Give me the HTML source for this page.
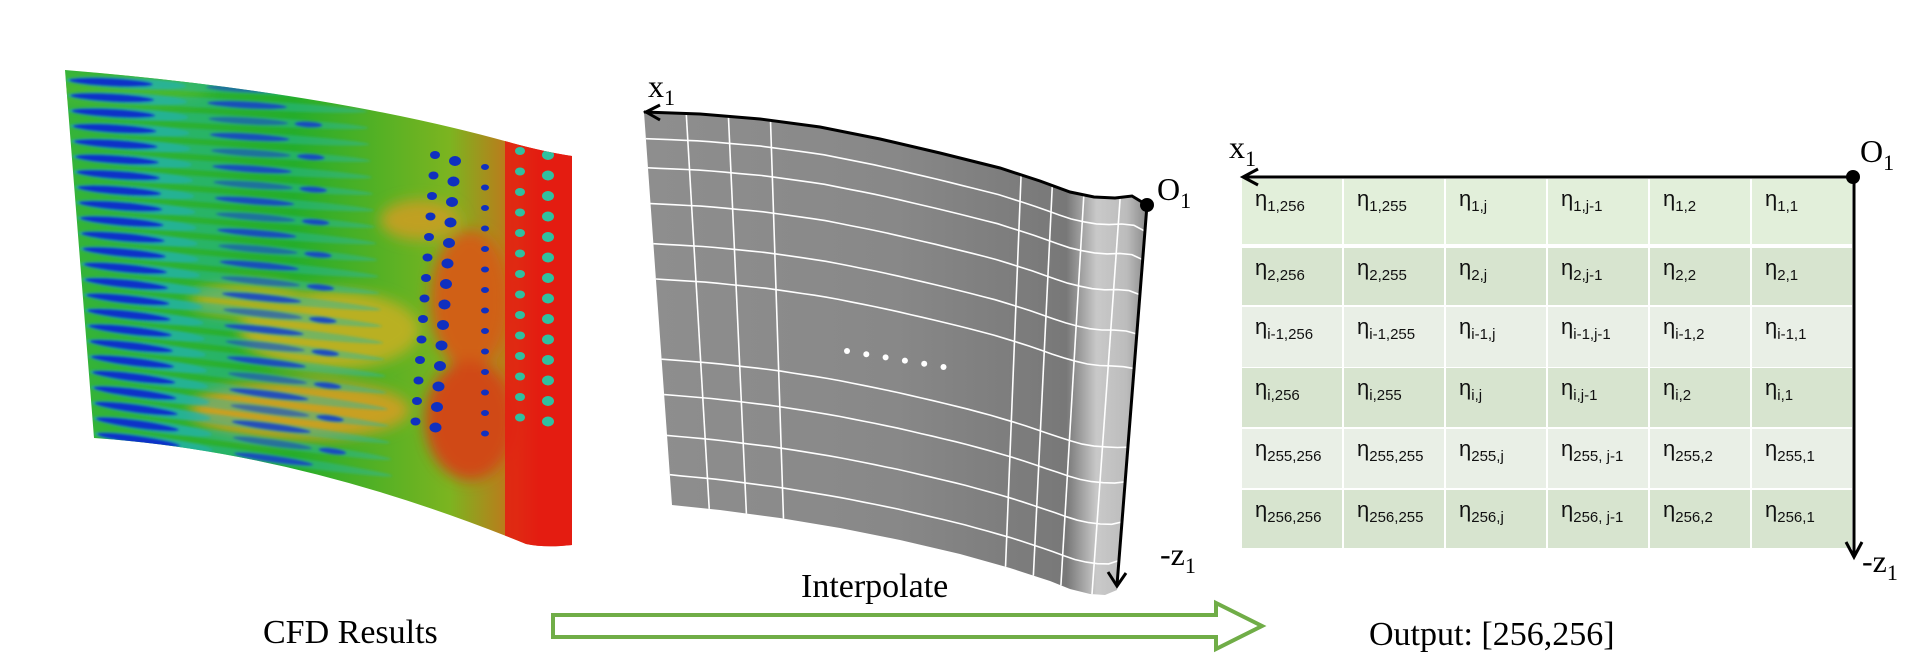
<!DOCTYPE html>
<html><head><meta charset="utf-8"><style>
html,body{margin:0;padding:0;background:#fff;}
svg{display:block;}
.serif{font-family:"Liberation Serif",serif;fill:#000;}
.cell{font-family:"Liberation Sans",sans-serif;fill:#111;font-size:22px;}
</style></head><body>
<svg id="fig" width="1917" height="672" viewBox="0 0 1917 672" xmlns="http://www.w3.org/2000/svg">
<defs>
<clipPath id="cfdClip"><path d="M65,70 Q330,92 512,143 Q545,152 572,156 L572,545 Q545,548 526,544 Q300,452 94,438 Z"/></clipPath>
<filter id="blur1"><feGaussianBlur stdDeviation="1.2"/></filter>
<filter id="blur6"><feGaussianBlur stdDeviation="7"/></filter>
<linearGradient id="cfdBase" x1="0" y1="0" x2="1" y2="0">
<stop offset="0" stop-color="#36b43a"/><stop offset="0.45" stop-color="#25ad2a"/><stop offset="0.75" stop-color="#7cb420"/><stop offset="0.88" stop-color="#c8701a"/><stop offset="0.92" stop-color="#e02010"/><stop offset="1" stop-color="#e01a10"/>
</linearGradient>
<linearGradient id="surfGrad" x1="644" y1="0" x2="1147" y2="0" gradientUnits="userSpaceOnUse">
<stop offset="0" stop-color="#8e8e8e"/><stop offset="0.5" stop-color="#888"/><stop offset="0.84" stop-color="#787878"/><stop offset="0.9" stop-color="#c9c9c9"/><stop offset="0.96" stop-color="#bcbcbc"/><stop offset="1" stop-color="#8a8a8a"/>
</linearGradient>
</defs>

<g id="cfd" clip-path="url(#cfdClip)">
<rect x="60" y="60" width="520" height="500" fill="url(#cfdBase)"/>
<g id="cfdBlobs" filter="url(#blur6)"></g>
<g id="cfdStreaks" filter="url(#blur1)"></g>
<rect x="505" y="60" width="70" height="500" fill="#e41c12" opacity="0.85"/>
<g id="cfdDots"></g>
</g>

<g id="surface">
<path id="surfPoly" fill="url(#surfGrad)"/>
<g id="meshLines" stroke="#fff" stroke-width="1.6" fill="none"></g>
<g id="meshDots" fill="#fff"></g>
<path id="surfTop" fill="none" stroke="#000" stroke-width="3"/>
<line x1="1147" y1="205" x2="1117" y2="585" stroke="#000" stroke-width="3"/>
<path d="M1108,572 L1117,586 L1126,573" fill="none" stroke="#000" stroke-width="3"/>
<path d="M660,105 L646,112 L660,120" fill="none" stroke="#000" stroke-width="3"/>
<circle cx="1147" cy="205" r="7" fill="#000"/>
<text class="serif" x="648" y="97" font-size="32">x<tspan font-size="22" dy="8">1</tspan></text>
<text class="serif" x="1157" y="200" font-size="32">O<tspan font-size="22" dy="8">1</tspan></text>
<text class="serif" x="1160" y="565" font-size="32">-z<tspan font-size="22" dy="8">1</tspan></text>
</g>

<g id="table"></g>
<g>
<line x1="1854" y1="177" x2="1244" y2="177" stroke="#000" stroke-width="3"/>
<path d="M1258,169 L1243,177 L1258,185" fill="none" stroke="#000" stroke-width="3"/>
<line x1="1854" y1="177" x2="1854" y2="556" stroke="#000" stroke-width="3"/>
<path d="M1846,542 L1854,557 L1862,542" fill="none" stroke="#000" stroke-width="3"/>
<circle cx="1853" cy="177" r="7" fill="#000"/>
<text class="serif" x="1229" y="158" font-size="32">x<tspan font-size="22" dy="8">1</tspan></text>
<text class="serif" x="1860" y="162" font-size="32">O<tspan font-size="22" dy="8">1</tspan></text>
<text class="serif" x="1862" y="572" font-size="32">-z<tspan font-size="22" dy="8">1</tspan></text>
</g>

<g>
<path d="M553,615 L1216,615 L1216,603 L1262,626 L1216,649 L1216,637 L553,637 Z" fill="#fff" stroke="#70ad47" stroke-width="4"/>
</g>
<text class="serif" x="263" y="643" font-size="34">CFD Results</text>
<text class="serif" x="801" y="597" font-size="34">Interpolate</text>
<text class="serif" x="1369" y="645" font-size="34">Output: [256,256]</text>
</svg>
<script>
const NS="http://www.w3.org/2000/svg";
const rowLabels=["1","2","i-1","i","255","256"];
const colLabels=["256","255","j","j-1","2","1"];
const rowTops=[179,248,307,368,429,490];
const rowBots=[244,305,367,427,488,548];
const rowFill=["#e2efda","#d7e4cf","#e9efe6","#d7e4cf","#e9efe6","#d7e4cf"];
const colX0=1241, colW=102;
const table=document.getElementById('table');
rowLabels.forEach((r,i)=>{
  colLabels.forEach((c,j)=>{
    const x=colX0+j*colW;
    const rect=document.createElementNS(NS,'rect');
    
    
    rect.setAttribute('x',x+1);rect.setAttribute('y',rowTops[i]);
    rect.setAttribute('width',colW-2);rect.setAttribute('height',rowBots[i]-rowTops[i]);
    rect.setAttribute('fill',rowFill[i]);
    table.appendChild(rect);
    const t=document.createElementNS(NS,'text');
    
    
    t.setAttribute('class','cell');
    t.setAttribute('x',x+14);t.setAttribute('y',rowTops[i]+27);
    let sub=r+","+c;
    if((r==="255"||r==="256")&&c==="j-1") sub=r+", j-1";
    t.innerHTML='η<tspan font-size="15" dy="5">'+sub+'</tspan>';
    table.appendChild(t);
  });
});

const topPts=[[644,112],[700,114],[760,119],[820,127],[880,139],[940,153],[1000,168],[1040,181],[1070,192],[1094,197],[1115,198],[1132,196],[1147,205]];
const botPts=[[672,505],[720,510],[780,518],[840,528],[900,540],[960,554],[1010,568],[1050,581],[1070,589],[1090,594],[1105,595],[1117,590]];
function along(pts,u){
  let L=[0];for(let k=1;k<pts.length;k++){L.push(L[k-1]+Math.hypot(pts[k][0]-pts[k-1][0],pts[k][1]-pts[k-1][1]));}
  const tgt=u*L[L.length-1];
  for(let k=1;k<pts.length;k++){ if(tgt<=L[k]){const f=(tgt-L[k-1])/(L[k]-L[k-1]||1);return [pts[k-1][0]+f*(pts[k][0]-pts[k-1][0]),pts[k-1][1]+f*(pts[k][1]-pts[k-1][1])];}}
  return pts[pts.length-1];
}
function P(u,v){const a=along(topPts,u),b=along(botPts,u);return [a[0]*(1-v)+b[0]*v,a[1]*(1-v)+b[1]*v];}
let d="M"+topPts.map(p=>p.join(",")).join(" L")+" L"+botPts.slice().reverse().map(p=>p.join(",")).join(" L")+" Z";
document.getElementById('surfPoly').setAttribute('d',d);
document.getElementById('surfTop').setAttribute('d',"M"+topPts.map(p=>p.join(",")).join(" L"));
const vLines=[0.068,0.142,0.233,0.335,0.425,0.629,0.719,0.823,0.923];
const uLines=[0.082,0.164,0.246,0.744,0.808,0.872,0.943];
const ml=document.getElementById('meshLines');
vLines.forEach(v=>{let s=[];for(let k=0;k<=40;k++){s.push(P(k/40,v).map(n=>n.toFixed(1)).join(","));}
  const p=document.createElementNS(NS,'path');
  
  
  p.setAttribute('d',"M"+s.join(" L"));ml.appendChild(p);});
uLines.forEach(u=>{const a=P(u,0),b=P(u,1);
  const p=document.createElementNS(NS,'path');
  
  
  p.setAttribute('d',"M"+a.join(",")+" L"+b.join(","));ml.appendChild(p);});
const md=document.getElementById('meshDots');
for(let k=0;k<6;k++){const c=document.createElementNS(NS,'circle');
  
  
  c.setAttribute('cx',847+k*19.3);c.setAttribute('cy',351+k*3.2);c.setAttribute('r',3);md.appendChild(c);}

const blobs=document.getElementById('cfdBlobs');
[[330,330,90,40,"#b9b021"],[300,410,110,30,"#c8a020"],[250,300,60,18,"#a8b020"],[470,300,40,70,"#d06018"],[470,420,45,60,"#d04a15"],[130,90,80,15,"#4ab832"],[420,220,40,20,"#c0a020"]].forEach(b=>{
  const e=document.createElementNS(NS,'ellipse');
  
  
  e.setAttribute('cx',b[0]);e.setAttribute('cy',b[1]);e.setAttribute('rx',b[2]);e.setAttribute('ry',b[3]);e.setAttribute('fill',b[4]);blobs.appendChild(e);});
const st=document.getElementById('cfdStreaks');
const dots=document.getElementById('cfdDots');
for(let i=0;i<24;i++){
  const y=80+i*15.2, x0=66+i*1.2;
  const sl=0.05+i*0.004;
  [[x0+150,150,5,"#28b8a8",0.45],[x0+60,60,6,"#20b0b0",0.6],[x0+45,42,4,"#1030c8",1],[x0+180,40,3.5,"#1a40c8",i%2?0.85:0.55],[x0+240,14,3,"#1a40c8",i%2?0:0.9]].forEach(s=>{
    if(s[4]===0)return;
    const e=document.createElementNS(NS,'ellipse');
    
    
    const cy=y+(s[0]-66)*sl;
    e.setAttribute('cx',s[0]);e.setAttribute('cy',cy);e.setAttribute('rx',s[1]);e.setAttribute('ry',s[2]);
    e.setAttribute('fill',s[3]);e.setAttribute('opacity',s[4]);
    e.setAttribute('transform','rotate('+(sl*57)+' '+s[0]+' '+cy+')');
    st.appendChild(e);
  });
}
for(let i=0;i<14;i++){
  const y=155+i*20.5;
  [[435-i*1.5,0,4],[455-i*1.5,6,5],[485,12,3],[520,-4,4],[548,0,5]].forEach(s=>{
    const c=document.createElementNS(NS,'ellipse');
    
    
    c.setAttribute('cx',s[0]);c.setAttribute('cy',y+s[1]);c.setAttribute('rx',s[2]+1);c.setAttribute('ry',s[2]);
    c.setAttribute('fill',s[0]>510?"#30c0a0":"#1030c0");
    dots.appendChild(c);
  });
}
</script>
</body></html>
